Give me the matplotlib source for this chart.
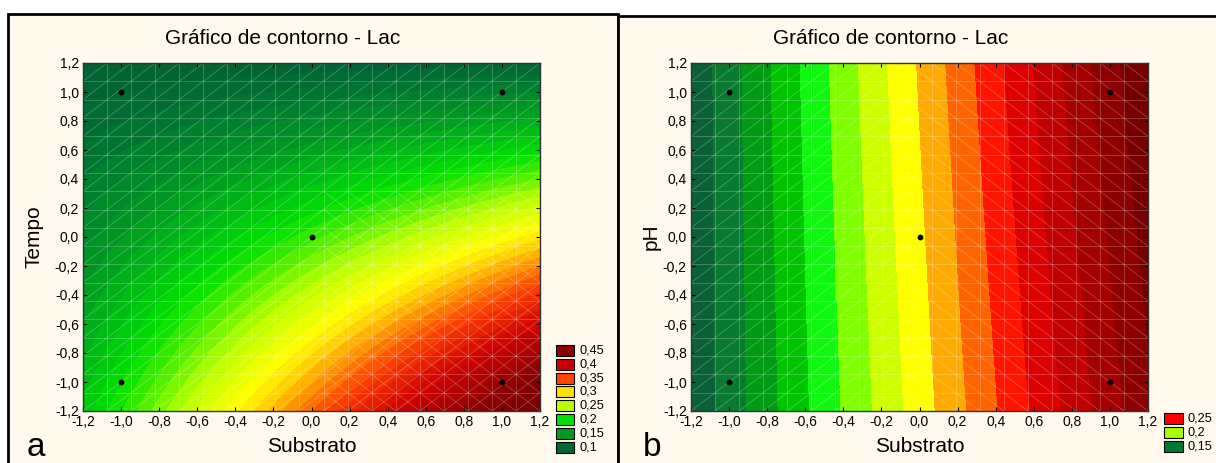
import numpy as np
import matplotlib
matplotlib.use("Agg")
import matplotlib.pyplot as plt
from matplotlib.colors import (LinearSegmentedColormap, ListedColormap, BoundaryNorm,
                               Normalize, to_rgb, rgb_to_hsv, hsv_to_rgb)
from matplotlib.collections import LineCollection
from matplotlib.patches import Rectangle

plt.rcParams['font.family'] = ['Liberation Sans', 'DejaVu Sans']

# ---------------- data ----------------
# design points (coded levels) and the Lac response
design_substrato = [-1.0, 1.0, -1.0, 1.0, 0.0]
design_tempo = [1.0, 1.0, -1.0, -1.0, 0.0]
design_ph = [1.0, 1.0, -1.0, -1.0, 0.0]
lac_a = [0.100, 0.128, 0.200, 0.440, 0.212]
lac_b = [0.1655, 0.2955, 0.1645, 0.2865, 0.228]

tick_values = [-1.2, -1.0, -0.8, -0.6, -0.4, -0.2, 0.0, 0.2, 0.4, 0.6, 0.8, 1.0, 1.2]
tick_labels = ['-1,2', '-1,0', '-0,8', '-0,6', '-0,4', '-0,2', '0,0',
               '0,2', '0,4', '0,6', '0,8', '1,0', '1,2']

# panel a: legend levels and colours (smooth scale interpolated between them)
legend_a_values = [0.45, 0.4, 0.35, 0.3, 0.25, 0.2, 0.15, 0.1]
legend_a_labels = ['0,45', '0,4', '0,35', '0,3', '0,25', '0,2', '0,15', '0,1']
legend_a_colors = ['#8B0000', '#CC0000', '#FF4500', '#FFE000', '#B8FF00', '#00E000', '#009A20', '#006633']
levels_a = [round(0.06 + 0.01 * i, 3) for i in range(48)]

# panel b: discrete bands
levels_b = [0.15, 0.16, 0.17, 0.18, 0.19, 0.20, 0.21, 0.22, 0.23, 0.24,
            0.25, 0.26, 0.27, 0.28, 0.29, 0.30, 0.31]
band_colors_b = ['#0B6038', '#0A7A30', '#009A14', '#00C400', '#10F810', '#80FF00',
                 '#CCFF00', '#FFFF00', '#FFAA00', '#FF6400', '#FF1400', '#DC0000',
                 '#C00000', '#A40000', '#8C0000', '#760000']
legend_b_labels = ['0,25', '0,2', '0,15']
legend_b_colors = ['#FF0000', '#AAFF00', '#007A33']

W, H = 1216, 463
BG = '#FFF9EE'


def fx(x):
    return x / W


def fy(y):
    return 1 - y / H


def fit_surface(xs, ys, zs):
    xs, ys, zs = map(np.asarray, (xs, ys, zs))
    A = np.column_stack([np.ones_like(xs), xs, ys, xs * ys])
    coef, *_ = np.linalg.lstsq(A, zs, rcond=None)
    g = np.linspace(-1.2, 1.2, 301)
    X, Y = np.meshgrid(g, g)
    Z = coef[0] + coef[1] * X + coef[2] * Y + coef[3] * X * Y
    return X, Y, Z


def hsv_scale(values, colors, lo, hi, under, over):
    order = np.argsort(values)
    v = np.asarray(values)[order]
    hsv = rgb_to_hsv(np.array([to_rgb(colors[i]) for i in order]))
    pos, cols = [], []
    for k in range(len(v) - 1):
        for t in np.linspace(0, 1, 12, endpoint=False):
            c = hsv[k] * (1 - t) + hsv[k + 1] * t
            pos.append(v[k] + (v[k + 1] - v[k]) * t)
            cols.append(hsv_to_rgb(c))
    pos.append(v[-1])
    cols.append(hsv_to_rgb(hsv[-1]))
    pos = [lo] + pos + [hi]
    cols = [to_rgb(under)] + cols + [to_rgb(over)]
    pos = (np.array(pos) - lo) / (hi - lo)
    return LinearSegmentedColormap.from_list('hsvscale', list(zip(pos, cols)), N=1024)


def mesh(ax, both_rule):
    g = np.linspace(-1.2, 1.2, 20)
    segs = []
    for v in g:
        segs.append([(v, -1.2), (v, 1.2)])
        segs.append([(-1.2, v), (1.2, v)])
    for i in range(19):
        for j in range(19):
            x0, x1, y0, y1 = g[i], g[i + 1], g[j], g[j + 1]
            fwd, back = both_rule((x0 + x1) / 2, (y0 + y1) / 2)
            if fwd:
                segs.append([(x0, y0), (x1, y1)])
            if back:
                segs.append([(x0, y1), (x1, y0)])
    lc = LineCollection(segs, colors='white', linewidths=0.6, alpha=0.26, zorder=2)
    ax.add_collection(lc)


def style_axes(ax):
    ax.set_xlim(-1.2, 1.2)
    ax.set_ylim(-1.2, 1.2)
    ax.set_xticks(tick_values)
    ax.set_xticklabels(tick_labels)
    ax.set_yticks(tick_values)
    ax.set_yticklabels(tick_labels)
    ax.tick_params(direction='in', top=True, right=True, length=3, width=0.8,
                   labelsize=10, colors='black')
    ax.tick_params(axis='x', pad=3)
    ax.tick_params(axis='y', pad=3)
    for s in ax.spines.values():
        s.set_color('#333333')
        s.set_linewidth(1.0)


fig = plt.figure(figsize=(W / 100, H / 100), dpi=100, facecolor='white')

# panel frames
fig.add_artist(Rectangle((fx(8), -0.02), fx(618 - 8), fy(14) + 0.02, transform=fig.transFigure,
                         facecolor=BG, edgecolor='black', linewidth=2, zorder=-10))
fig.add_artist(Rectangle((fx(618), -0.02), fx(W - 618) + 0.05, fy(15.5) + 0.02, transform=fig.transFigure,
                         facecolor=BG, edgecolor='black', linewidth=2, zorder=-10))

ax_w = fx(540) - fx(83)
ax_h = fy(63) - fy(411)
ax_a = fig.add_axes([fx(83), fy(411), ax_w, ax_h])
ax_b = fig.add_axes([fx(691), fy(411), ax_w, ax_h])

# ---- panel a ----
Xa, Ya, Za = fit_surface(design_substrato, design_tempo, lac_a)
lo_a, hi_a = 0.06, 0.53
cmap_a = hsv_scale(legend_a_values, legend_a_colors, lo_a, hi_a, '#0A5436', '#660000')
ax_a.contourf(Xa, Ya, Za, levels=levels_a, cmap=cmap_a,
              norm=Normalize(lo_a, hi_a), extend='both', zorder=1)
mesh(ax_a, lambda x, y: (True, x > 0 and y < 0.3))
ax_a.scatter(design_substrato, design_tempo, s=10, color='black', zorder=5)
style_axes(ax_a)

# ---- panel b ----
Xb, Yb, Zb = fit_surface(design_substrato, design_ph, lac_b)
cmap_b = ListedColormap(band_colors_b)
cmap_b.set_under(band_colors_b[0])
cmap_b.set_over(band_colors_b[-1])
ax_b.contourf(Xb, Yb, Zb, levels=levels_b, cmap=cmap_b,
              norm=BoundaryNorm(levels_b, len(band_colors_b)), extend='both', zorder=1)
mesh(ax_b, lambda x, y: (x < 0, x >= 0))
ax_b.scatter(design_substrato, design_ph, s=10, color='black', zorder=5)
style_axes(ax_b)

# titles and labels
fig.text(fx(283), fy(38), 'Gráfico de contorno - Lac', ha='center', va='center', fontsize=15)
fig.text(fx(891), fy(38), 'Gráfico de contorno - Lac', ha='center', va='center', fontsize=15)
fig.text(fx(311.5), fy(447), 'Substrato', ha='center', va='center', fontsize=15)
fig.text(fx(919.5), fy(447), 'Substrato', ha='center', va='center', fontsize=15)
fig.text(fx(34), fy(237), 'Tempo', ha='center', va='center', fontsize=15, rotation=90)
fig.text(fx(651), fy(237), 'pH', ha='center', va='center', fontsize=15, rotation=90)
fig.text(fx(36), fy(448), 'a', ha='center', va='center', fontsize=24)
fig.text(fx(652), fy(448), 'b', ha='center', va='center', fontsize=24)

# legends
for i, (lab, col) in enumerate(zip(legend_a_labels, legend_a_colors)):
    top = 345 + i * 13.8
    fig.add_artist(Rectangle((fx(556), fy(top + 11)), fx(18), fy(0) - fy(11), transform=fig.transFigure,
                             facecolor=col, edgecolor='black', linewidth=0.8))
    fig.text(fx(579), fy(top + 5.5), lab, ha='left', va='center', fontsize=9.2)

for i, (lab, col) in enumerate(zip(legend_b_labels, legend_b_colors)):
    top = 413 + i * 14
    fig.add_artist(Rectangle((fx(1164), fy(top + 11)), fx(19), fy(0) - fy(11), transform=fig.transFigure,
                             facecolor=col, edgecolor='black', linewidth=0.8))
    fig.text(fx(1187), fy(top + 5.5), lab, ha='left', va='center', fontsize=9.2)

fig.savefig('out.png', dpi=100, facecolor='white')
